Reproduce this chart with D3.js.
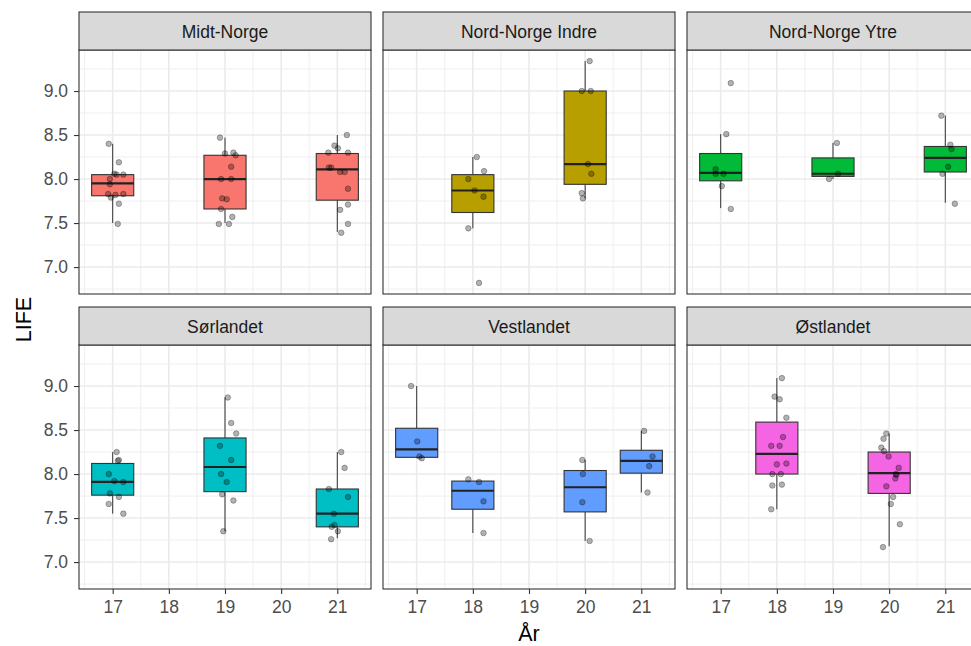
<!DOCTYPE html>
<html><head><meta charset="utf-8">
<script src="https://cdn.jsdelivr.net/npm/d3@7"></script>
<style>body{margin:0;background:#fff}svg{display:block}</style>
</head><body>
<svg id="chart" width="971" height="646"></svg>
<script>
const regions = ["Midt-Norge","Nord-Norge Indre","Nord-Norge Ytre","Sørlandet","Vestlandet","Østlandet"];
const years = [17,18,19,20,21];
const yTicks = [7.0,7.5,8.0,8.5,9.0];
const colors = ["#F8766D","#B79F00","#00BA38","#00BFC4","#619CFF","#F564E3"];

// box statistics
const boxRegion = [0,0,0, 1,1, 2,2,2, 3,3,3, 4,4,4,4, 5,5];
const boxYear   = [17,19,21, 18,20, 17,19,21, 17,19,21, 17,18,20,21, 18,20];
const boxLow    = [7.50,7.50,7.40, 7.44,7.78, 7.67,8.00,7.73, 7.55,7.35,7.27, 8.18,7.33,7.24,7.79, 7.60,7.18];
const boxQ1     = [7.81,7.66,7.76, 7.62,7.94, 7.98,8.03,8.08, 7.76,7.80,7.40, 8.19,7.60,7.57,8.01, 8.00,7.78];
const boxMed    = [7.95,8.00,8.11, 7.87,8.17, 8.07,8.06,8.24, 7.91,8.08,7.55, 8.28,7.81,7.85,8.15, 8.23,8.01];
const boxQ3     = [8.05,8.27,8.29, 8.05,9.00, 8.29,8.24,8.37, 8.12,8.41,7.83, 8.52,7.92,8.04,8.27, 8.59,8.25];
const boxHigh   = [8.40,8.47,8.50, 8.25,9.34, 8.51,8.41,8.72, 8.25,8.87,8.25, 9.00,7.92,8.16,8.49, 9.09,8.46];

// jittered observations: year, horizontal jitter (years), LIFE
const ptsMidt = [
 [17,-0.07,8.40],[17,0.11,8.19],[17,0.03,8.06],[17,0.07,8.05],[17,0.19,8.05],[17,-0.05,8.00],[17,-0.05,7.94],
 [17,-0.08,7.83],[17,0.05,7.82],[17,0.19,7.83],[17,-0.03,7.79],[17,0.11,7.72],[17,0.09,7.49],
 [19,-0.09,8.47],[19,0.00,8.29],[19,0.15,8.30],[19,0.19,8.27],[19,0.11,8.14],[19,-0.07,8.00],[19,0.11,8.00],
 [19,-0.05,7.78],[19,0.03,7.77],[19,-0.07,7.66],[19,0.13,7.57],[19,-0.11,7.49],[19,0.07,7.49],
 [21,0.17,8.50],[21,-0.05,8.38],[21,0.01,8.35],[21,-0.16,8.30],[21,0.19,8.30],[21,-0.15,8.13],[21,-0.11,8.13],
 [21,0.05,8.08],[21,0.13,8.08],[21,0.19,7.89],[21,0.19,7.71],[21,0.05,7.65],[21,0.19,7.49],[21,0.07,7.39]];
const ptsNordIndre = [
 [18,0.07,8.25],[18,0.20,8.09],[18,-0.08,8.00],[18,0.03,7.87],[18,0.19,7.80],[18,-0.08,7.44],[18,0.11,6.82],
 [20,0.08,9.34],[20,-0.06,9.00],[20,0.10,9.00],[20,0.05,8.17],[20,0.11,8.06],[20,-0.06,7.84],[20,-0.04,7.78]];
const ptsNordYtre = [
 [17,0.18,9.09],[17,0.10,8.51],[17,-0.09,8.11],[17,-0.09,8.06],[17,0.05,8.06],[17,0.02,7.92],[17,0.18,7.66],
 [19,0.07,8.41],[19,0.09,8.06],[19,-0.07,8.00],
 [21,-0.07,8.72],[21,0.09,8.39],[21,0.11,8.34],[21,0.05,8.14],[21,-0.05,8.06],[21,0.17,7.72]];
const ptsSor = [
 [17,0.07,8.25],[17,0.11,8.16],[17,0.09,8.15],[17,-0.07,8.00],[17,0.03,7.92],[17,0.19,7.91],[17,-0.05,7.78],
 [17,0.11,7.74],[17,-0.07,7.66],[17,0.19,7.55],
 [19,0.05,8.87],[19,0.11,8.58],[19,0.20,8.46],[19,-0.09,8.32],[19,0.11,8.16],[19,-0.07,8.00],[19,0.03,7.91],
 [19,-0.05,7.77],[19,0.15,7.70],[19,-0.03,7.35],
 [21,0.07,8.25],[21,0.13,8.07],[21,-0.15,7.83],[21,0.19,7.74],[21,-0.06,7.55],[21,-0.05,7.42],[21,-0.10,7.40],
 [21,0.01,7.35],[21,-0.11,7.26]];
const ptsVest = [
 [17,-0.10,9.00],[17,0.01,8.37],[17,0.05,8.20],[17,0.09,8.18],
 [18,-0.08,7.94],[18,0.11,7.91],[18,0.19,7.69],[18,0.19,7.33],
 [20,-0.05,8.16],[20,-0.04,8.00],[20,-0.05,7.68],[20,0.08,7.24],
 [21,0.05,8.49],[21,0.20,8.20],[21,0.14,8.09],[21,0.11,7.79]];
const ptsOst = [
 [18,0.09,9.09],[18,-0.04,8.88],[18,0.05,8.85],[18,0.17,8.64],[18,0.11,8.42],[18,-0.10,8.32],[18,0.05,8.32],
 [18,0.00,8.11],[18,0.17,8.12],[18,-0.08,8.00],[18,0.07,8.00],[18,-0.08,7.87],[18,0.09,7.88],[18,-0.10,7.60],
 [20,-0.05,8.46],[20,-0.10,8.40],[20,-0.14,8.30],[20,-0.09,8.26],[20,-0.01,8.20],[20,0.17,8.07],[20,0.12,8.00],
 [20,0.13,7.99],[20,0.11,7.95],[20,-0.05,7.86],[20,0.07,7.74],[20,0.03,7.66],[20,0.19,7.43],[20,-0.11,7.17]];
const points = [ptsMidt, ptsNordIndre, ptsNordYtre, ptsSor, ptsVest, ptsOst];

const svg = d3.select("#chart");
const font = "'Liberation Sans', Arial, sans-serif";
const left = 79, pw = 292, gap = 12, stripH = 38, ph = 244;
const rowTop = [12, 307];
const smallSize = 17.5, titleSize = 21.5;

const allVals = points.flat().map(d => d[2]);
const vmin = d3.min(allVals), vmax = d3.max(allVals), vr = vmax - vmin;
const x = d3.scaleLinear().domain([16.4, 21.6]).range([0, pw]);
const y = d3.scaleLinear().domain([vmin - 0.05*vr, vmax + 0.05*vr]).range([ph, 0]);
const bw = x(17.375) - x(17);

regions.forEach((reg, i) => {
  const col = i % 3, row = Math.floor(i / 3);
  const px = left + col * (pw + gap);
  const sy = rowTop[row];
  const py = sy + stripH;
  const g = svg.append("g").attr("transform", `translate(${px},${py})`);

  // grid
  const minorY = d3.range(6.75, 9.5, 0.5);
  g.selectAll(".gmy").data(minorY).enter().append("line")
    .attr("x1",0).attr("x2",pw).attr("y1",d=>y(d)).attr("y2",d=>y(d))
    .attr("stroke","#EBEBEB").attr("stroke-width",0.8);
  const minorX = d3.range(16.5, 21.6, 1);
  g.selectAll(".gmx").data(minorX).enter().append("line")
    .attr("y1",0).attr("y2",ph).attr("x1",d=>x(d)).attr("x2",d=>x(d))
    .attr("stroke","#EBEBEB").attr("stroke-width",0.8);
  g.selectAll(".gy").data(yTicks).enter().append("line")
    .attr("x1",0).attr("x2",pw).attr("y1",d=>y(d)).attr("y2",d=>y(d))
    .attr("stroke","#EBEBEB").attr("stroke-width",1.6);
  g.selectAll(".gx").data(years).enter().append("line")
    .attr("y1",0).attr("y2",ph).attr("x1",d=>x(d)).attr("x2",d=>x(d))
    .attr("stroke","#EBEBEB").attr("stroke-width",1.6);

  // boxes
  const idx = d3.range(boxRegion.length).filter(k => boxRegion[k] === i);
  idx.forEach(k => {
    const cx = x(boxYear[k]);
    g.append("line").attr("x1",cx).attr("x2",cx).attr("y1",y(boxHigh[k])).attr("y2",y(boxQ3[k]))
      .attr("stroke","#333").attr("stroke-width",1);
    g.append("line").attr("x1",cx).attr("x2",cx).attr("y1",y(boxQ1[k])).attr("y2",y(boxLow[k]))
      .attr("stroke","#333").attr("stroke-width",1);
    g.append("rect").attr("x",cx-bw).attr("width",2*bw)
      .attr("y",y(boxQ3[k])).attr("height",y(boxQ1[k])-y(boxQ3[k]))
      .attr("fill",colors[i]).attr("stroke","#333").attr("stroke-width",1.1);
    g.append("line").attr("x1",cx-bw).attr("x2",cx+bw).attr("y1",y(boxMed[k])).attr("y2",y(boxMed[k]))
      .attr("stroke","#222").attr("stroke-width",2.2);
  });

  // points
  g.selectAll(".pt").data(points[i]).enter().append("circle")
    .attr("cx",d=>x(d[0]+d[1])).attr("cy",d=>y(d[2])).attr("r",2.8)
    .attr("fill","#000").attr("fill-opacity",0.3)
    .attr("stroke","#000").attr("stroke-opacity",0.4).attr("stroke-width",0.7);

  // panel border
  g.append("rect").attr("x",0).attr("y",0).attr("width",pw).attr("height",ph)
    .attr("fill","none").attr("stroke","#333").attr("stroke-width",1.1);

  // strip
  svg.append("rect").attr("x",px).attr("y",sy).attr("width",pw).attr("height",stripH)
    .attr("fill","#D9D9D9").attr("stroke","#333").attr("stroke-width",1.1);
  svg.append("text").attr("x",px+pw/2).attr("y",sy+stripH/2+1).attr("dy","0.35em")
    .attr("text-anchor","middle").attr("font-family",font).attr("font-size",smallSize)
    .attr("fill","#1A1A1A").text(reg);

  // y axis on first column
  if (col === 0) {
    const ay = svg.append("g").attr("transform",`translate(${px},${py})`)
      .call(d3.axisLeft(y).tickValues(yTicks).tickFormat(d3.format(".1f")).tickSize(5).tickPadding(6));
    ay.select(".domain").remove();
    ay.selectAll(".tick line").attr("stroke","#333").attr("stroke-width",1.1);
    ay.selectAll(".tick text").attr("font-family",font).attr("font-size",smallSize).attr("fill","#4D4D4D");
  }
  // x axis on bottom row
  if (row === 1) {
    const ax = svg.append("g").attr("transform",`translate(${px},${py+ph})`)
      .call(d3.axisBottom(x).tickValues(years).tickFormat(d3.format("d")).tickSize(5).tickPadding(7));
    ax.select(".domain").remove();
    ax.selectAll(".tick line").attr("stroke","#333").attr("stroke-width",1.1);
    ax.selectAll(".tick text").attr("font-family",font).attr("font-size",smallSize).attr("fill","#4D4D4D");
  }
});

// axis titles
svg.append("text").attr("x", left + (3*pw + 2*gap)/2).attr("y", 641)
  .attr("text-anchor","middle").attr("font-family",font).attr("font-size",titleSize).attr("fill","#000").text("År");
svg.append("text").attr("transform",`translate(23,${(rowTop[0]+stripH + rowTop[1]+stripH+ph)/2}) rotate(-90)`)
  .attr("dy","0.35em").attr("text-anchor","middle").attr("font-family",font).attr("font-size",titleSize)
  .attr("fill","#000").text("LIFE");
</script>
</body></html>
